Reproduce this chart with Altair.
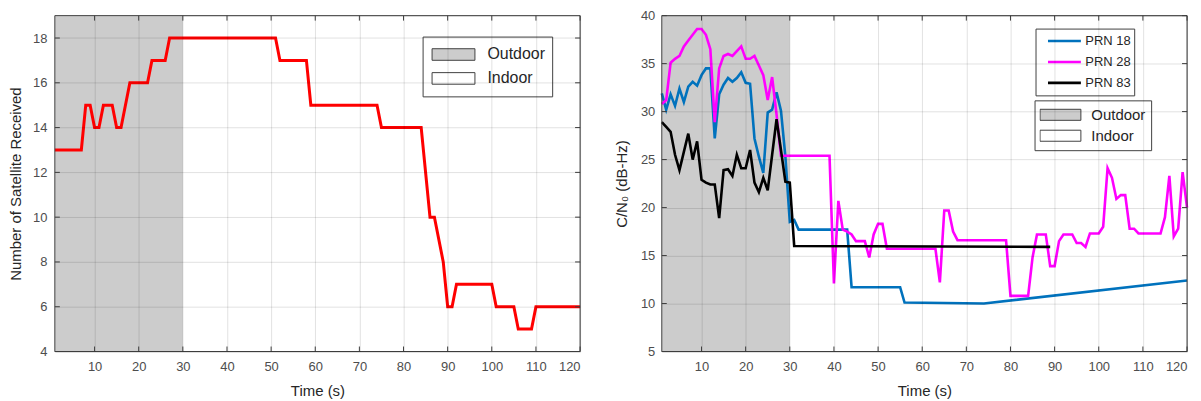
import altair as alt
import pandas as pd

FONT = "Liberation Sans"
W, H = 527, 337

# ---------------- Left panel: number of satellites ----------------
sat_time = [1, 7, 8, 9, 10, 11, 12, 14, 15, 16, 18, 22, 23, 26, 27, 51, 52, 58, 59, 74,
            75, 84, 86, 87, 89, 90, 91, 92, 100, 101, 105, 106, 109, 110, 120]
sat_count = [13, 13, 15, 15, 14, 14, 15, 15, 14, 14, 16, 16, 17, 17, 18, 18, 17, 17, 15, 15,
             14, 14, 10, 10, 8, 6, 6, 7, 7, 6, 6, 5, 5, 6, 6]

# ---------------- Right panel: C/N0 ----------------
prn18_time = list(range(1, 33)) + [43, 44, 55, 56, 74, 120]
prn18_cn0 = [31.9, 30.2, 31.8, 30.6, 32.4, 31.0, 32.6, 33.1, 32.7, 33.8, 34.5, 34.5, 27.2,
             31.8, 32.8, 33.5, 33.1, 33.5, 34.1, 33.0, 32.9, 27.2, 25.3, 23.6, 29.9, 30.2,
             32.0, 30.1, 25.3, 18.5, 18.7, 17.7,
             17.7, 11.7, 11.7, 10.1, 10.0, 12.4]

prn28_time = (list(range(1, 29)) + [39] + list(range(40, 53)) + [63] + list(range(64, 69))
              + [79, 80, 84] + list(range(85, 121)))
prn28_cn0 = ([30.8, 31.2, 35.1, 35.5, 35.8, 36.8, 37.4, 38.0, 38.6, 38.6, 38.0, 36.5, 28.9,
              34.5, 35.8, 36.0, 35.8, 36.3, 36.8, 35.5, 35.5, 35.8, 34.8, 33.8, 31.2, 33.6,
              29.7, 25.4]
             + [25.4]
             + [12.1, 20.7, 17.7, 17.5, 17.2, 16.5, 16.5, 16.5, 14.8, 17.2, 18.3, 18.3, 15.7]
             + [15.7]
             + [12.2, 19.7, 19.7, 17.5, 16.6]
             + [16.6, 10.8, 10.8]
             + [14.8, 17.2, 17.2, 17.2, 13.9, 13.9, 16.5, 17.2, 17.2, 17.2,
                16.3, 16.3, 15.9, 17.3, 17.3, 17.3, 18.0, 24.1, 23.1, 20.9,
                21.3, 21.3, 17.8, 17.8, 17.3, 17.3, 17.3, 17.3, 17.3, 17.3,
                19.0, 23.3, 17.0, 17.8, 23.7, 20.0])

prn83_time = list(range(1, 32)) + [89]
prn83_cn0 = [28.9, 28.4, 27.9, 25.5, 23.9, 25.8, 27.7, 25.0, 26.9, 22.9, 22.6, 22.4, 22.4,
             18.9, 23.9, 24.0, 23.3, 25.5, 24.1, 24.1, 26.0, 22.6, 21.6, 23.1, 21.8, 25.5,
             29.2, 26.0, 22.7, 22.6, 16.0, 15.9]

series_names = ["PRN 18", "PRN 28", "PRN 83"]
series_colors = ["#0072BD", "#FF00FF", "#000000"]

zones = ["Outdoor", "Indoor"]
zone_colors = ["#cccccc", "#ffffff"]
outdoor_start, outdoor_end = 1, 30

x_ticks = [10, 20, 30, 40, 50, 60, 70, 80, 90, 100, 110, 120]
y_ticks_left = [4, 6, 8, 10, 12, 14, 16, 18]
y_ticks_right = [5, 10, 15, 20, 25, 30, 35, 40]

# ---------------- helpers ----------------
def axis(title, values, label_pad=9, title_pad=10):
    return alt.Axis(values=values, title=title, grid=True, ticks=False, domain=False,
                    labelFont=FONT, labelFontSize=13, labelColor="#4d4d4d",
                    labelPadding=label_pad, titleFont=FONT, titleFontSize=15,
                    titleFontWeight="normal", titleColor="#262626", titlePadding=title_pad,
                    gridColor="#000000", gridOpacity=0.12, zindex=1)


def panel(line_layer, xscale, xaxis, yscale, yaxis, yticks, lg):
    shade_df = pd.DataFrame({"zone": ["Outdoor"], "start": [outdoor_start], "end": [outdoor_end]})
    shade = alt.Chart(shade_df).mark_rect().encode(
        x=alt.X("start:Q", scale=xscale, axis=xaxis),
        x2="end:Q",
        y=alt.value(0), y2=alt.value(H),
        fill=alt.Fill("zone:N", scale=alt.Scale(domain=zones, range=zone_colors),
                      legend=alt.Legend(orient="none", legendX=lg["x"], legendY=lg["y"],
                                        title=None, symbolType="M-1,-0.27H1V0.27H-1Z",
                                        symbolSize=lg["sym"] ** 2, symbolStrokeColor="#404040",
                                        symbolStrokeWidth=1, symbolOpacity=1,
                                        clipHeight=lg["row"], labelFont=FONT,
                                        labelFontSize=lg["font"], labelColor="#262626",
                                        labelOffset=lg["loff"], symbolOffset=lg["soff"],
                                        padding=lg["pad"], strokeColor="#404040",
                                        fillColor="#ffffff")),
    )
    xt = pd.DataFrame({"v": x_ticks})
    yt = pd.DataFrame({"v": yticks})
    tick_style = dict(color="#404040", strokeWidth=1)
    tb = alt.Chart(xt).mark_rule(**tick_style).encode(
        x=alt.X("v:Q", scale=xscale, axis=xaxis), y=alt.value(H), y2=alt.value(H - 5))
    tt = alt.Chart(xt).mark_rule(**tick_style).encode(
        x=alt.X("v:Q", scale=xscale, axis=xaxis), y=alt.value(0), y2=alt.value(5))
    tl = alt.Chart(yt).mark_rule(**tick_style).encode(
        y=alt.Y("v:Q", scale=yscale, axis=yaxis), x=alt.value(0), x2=alt.value(5))
    tr = alt.Chart(yt).mark_rule(**tick_style).encode(
        y=alt.Y("v:Q", scale=yscale, axis=yaxis), x=alt.value(W), x2=alt.value(W - 5))
    frame = alt.Chart(pd.DataFrame({"a": [0]})).mark_rect(
        fillOpacity=0, stroke="#404040", strokeWidth=1).encode(
        x=alt.value(0), x2=alt.value(W), y=alt.value(0), y2=alt.value(H))
    return alt.layer(shade, line_layer, tb, tt, tl, tr, frame).properties(width=W, height=H)


# left
xscale_l = alt.Scale(domain=[1, 120], nice=False, zero=False)
xaxis_l = axis("Time (s)", x_ticks)
yscale_l = alt.Scale(domain=[4, 19], nice=False, zero=False)
yaxis_l = axis("Number of Satellite Received", y_ticks_left, label_pad=8, title_pad=9)

left_df = pd.DataFrame({"t": sat_time, "n": sat_count})
left_line = alt.Chart(left_df).mark_line(color="#ff0000", strokeWidth=3).encode(
    x=alt.X("t:Q", scale=xscale_l, axis=xaxis_l),
    y=alt.Y("n:Q", scale=yscale_l, axis=yaxis_l),
)
left = panel(left_line, xscale_l, xaxis_l, yscale_l, yaxis_l, y_ticks_left,
             dict(x=369, y=21, sym=43, row=22, font=16, loff=12, soff=2, pad=7))

# right
xscale_r = alt.Scale(domain=[1, 120], nice=False, zero=False)
xaxis_r = axis("Time (s)", x_ticks)
yscale_r = alt.Scale(domain=[5, 40], nice=False, zero=False)
yaxis_r = axis("C/N₀ (dB-Hz)", y_ticks_right, label_pad=7, title_pad=11)

right_df = pd.concat([
    pd.DataFrame({"t": prn18_time, "c": prn18_cn0, "s": "PRN 18"}),
    pd.DataFrame({"t": prn28_time, "c": prn28_cn0, "s": "PRN 28"}),
    pd.DataFrame({"t": prn83_time, "c": prn83_cn0, "s": "PRN 83"}),
], ignore_index=True)
right_line = alt.Chart(right_df).mark_line(strokeWidth=2.6).encode(
    x=alt.X("t:Q", scale=xscale_r, axis=xaxis_r),
    y=alt.Y("c:Q", scale=yscale_r, axis=yaxis_r),
    color=alt.Color("s:N", scale=alt.Scale(domain=series_names, range=series_colors),
                    legend=alt.Legend(orient="none", legendX=375, legendY=13, title=None,
                                      symbolType="stroke", symbolSize=33 ** 2,
                                      symbolStrokeWidth=2.6, clipHeight=19,
                                      labelFont=FONT, labelFontSize=13, labelColor="#262626",
                                      labelOffset=3, symbolOffset=8, padding=3,
                                      strokeColor="#404040", fillColor="#ffffff")),
)
right = panel(right_line, xscale_r, xaxis_r, yscale_r, yaxis_r, y_ticks_right,
              dict(x=374, y=85, sym=41, row=19, font=15, loff=10, soff=0, pad=5))

chart = alt.hconcat(left, right, spacing=27).resolve_scale(
    x="independent", y="independent", fill="independent", color="independent"
).resolve_legend(fill="independent", color="independent").properties(
    padding=0
).configure_view(stroke=None).configure(background="white")

chart.save("out.html", embed_options={"renderer": "svg", "actions": False})
